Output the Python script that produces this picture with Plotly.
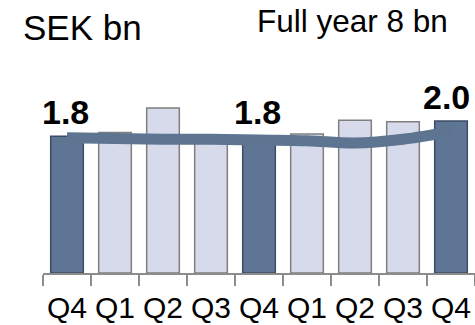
import plotly.graph_objects as go

# Quarterly values, SEK bn
quarters = ["Q4", "Q1", "Q2", "Q3", "Q4", "Q1", "Q2", "Q3", "Q4"]
values = [1.8, 1.85, 2.17, 1.82, 1.8, 1.83, 2.01, 1.99, 2.0]
trend = [1.78, 1.77, 1.76, 1.76, 1.75, 1.74, 1.71, 1.76, 1.86]
highlight = [True, False, False, False, True, False, False, False, True]
labelled = {0: "1.8", 4: "1.8", 8: "2.0"}

DARK = "#5f7594"
DARK_EDGE = "#3e4d63"
LIGHT = "#d6daeb"
LIGHT_EDGE = "#7f7f7f"
TREND = "#5d7591"
AXIS = "#8c8c8c"
FONT = "Liberation Sans, Arial, sans-serif"

xs = list(range(len(quarters)))

fig = go.Figure()
fig.add_trace(go.Bar(
    x=xs,
    y=values,
    marker=dict(
        color=[DARK if h else LIGHT for h in highlight],
        line=dict(color=[DARK_EDGE if h else LIGHT_EDGE for h in highlight], width=1.5),
    ),
    hoverinfo="skip",
))
fig.add_trace(go.Scatter(
    x=xs,
    y=trend,
    mode="lines",
    line=dict(color=TREND, width=11, shape="spline", smoothing=1.0),
    hoverinfo="skip",
))

# value labels above the highlighted bars
for i, txt in labelled.items():
    fig.add_annotation(
        x=xs[i], y=values[i], text=txt, showarrow=False,
        xanchor="center", yanchor="middle",
        yshift=24, xshift=-5 if i == len(xs) - 1 else -2,
        font=dict(family=FONT, size=34, color="#000000", weight="bold"),
    )

fig.add_annotation(
    x=-0.052, y=(273 - 27.5) / 273, xref="paper", yref="paper",
    text="SEK bn", showarrow=False, xanchor="left", yanchor="middle",
    font=dict(family=FONT, size=35, color="#000000"),
)
fig.add_annotation(
    x=(352 - 43) / 432, y=(273 - 21) / 273, xref="paper", yref="paper",
    text="Full year 8 bn", showarrow=False, xanchor="center", yanchor="middle",
    font=dict(family=FONT, size=31.5, color="#000000"),
)

fig.update_layout(
    width=475, height=325,
    margin=dict(l=43, r=0, t=0, b=52),
    paper_bgcolor="white", plot_bgcolor="white",
    bargap=0.32,
    showlegend=False,
    xaxis=dict(
        range=[-0.5, len(xs) - 0.5],
        automargin=False,
        tickmode="array", tickvals=xs, ticktext=quarters,
        ticks="", showgrid=False, zeroline=False,
        showline=True, linecolor=AXIS, linewidth=2,
        tickfont=dict(family=FONT, size=30, color="#000000"),
        ticklabelstandoff=7,
        minor=dict(
            tickmode="array",
            tickvals=[i - 0.5 for i in range(len(xs) + 1)],
            ticks="outside", ticklen=11, tickwidth=2, tickcolor=AXIS,
            showgrid=False,
        ),
        fixedrange=True,
    ),
    yaxis=dict(
        range=[0, 273 / 76],
        automargin=False,
        visible=False, showgrid=False, zeroline=False,
        fixedrange=True,
    ),
)

fig.write_html("out.html")
